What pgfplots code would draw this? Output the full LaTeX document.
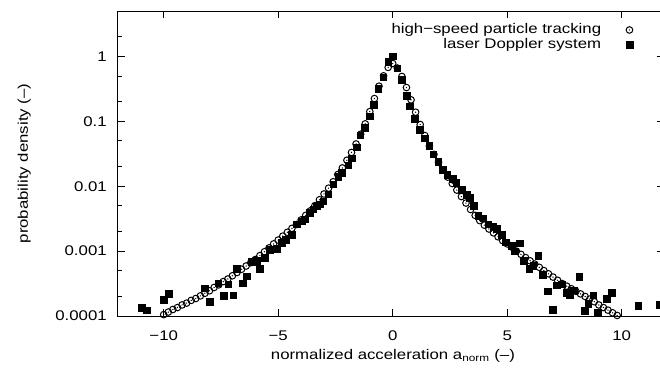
\documentclass[border=0pt]{standalone}
\usepackage{fontspec}
\setmainfont{Liberation Sans}[FakeStretch=1.2]
\usepackage{pgfplots}
\usepackage{pgfplotstable}
\pgfplotsset{compat=1.18}

\pgfdeclareplotmark{odot}{%
  \pgfpathcircle{\pgfpointorigin}{\pgfplotmarksize}\pgfusepathqstroke
  \pgfpathcircle{\pgfpointorigin}{0.22\pgfplotmarksize}\pgfusepathqfill}

\pgfplotstableread{
x y
-10.0 1.05e-4
-9.8 1.15e-4
-9.6 1.26e-4
-9.4 1.35e-4
-9.2 1.48e-4
-9.0 1.58e-4
-8.8 1.74e-4
-8.6 1.86e-4
-8.4 2.04e-4
-8.2 2.24e-4
-8.0 2.45e-4
-7.8 2.75e-4
-7.6 3.02e-4
-7.4 3.39e-4
-7.2 3.72e-4
-7.0 4.17e-4
-6.8 4.68e-4
-6.6 5.25e-4
-6.4 5.89e-4
-6.2 6.61e-4
-6.0 7.41e-4
-5.8 8.51e-4
-5.6 9.77e-4
-5.4 1.12e-3
-5.2 1.29e-3
-5.0 1.48e-3
-4.8 1.70e-3
-4.6 1.95e-3
-4.4 2.24e-3
-4.2 2.57e-3
-4.0 3.02e-3
-3.8 3.55e-3
-3.6 4.17e-3
-3.4 5.01e-3
-3.2 6.17e-3
-3.0 7.59e-3
-2.8 9.33e-3
-2.6 0.0117
-2.4 0.0151
-2.2 0.0191
-2.0 0.0251
-1.8 0.0331
-1.6 0.0447
-1.4 0.0631
-1.2 0.0912
-1.0 0.141
-0.8 0.224
-0.6 0.347
-0.4 0.501
-0.2 0.676
0.0 0.776
0.2 0.661
0.4 0.490
0.6 0.331
0.8 0.214
1.0 0.138
1.2 0.0891
1.4 0.0603
1.6 0.0417
1.8 0.0309
2.0 0.0234
2.2 0.0178
2.4 0.0138
2.6 0.0110
2.8 8.71e-3
3.0 6.92e-3
3.2 5.50e-3
3.4 4.37e-3
3.6 3.55e-3
3.8 2.95e-3
4.0 2.51e-3
4.2 2.19e-3
4.4 1.91e-3
4.6 1.66e-3
4.8 1.45e-3
5.0 1.29e-3
5.2 1.15e-3
5.4 1.00e-3
5.6 8.91e-4
5.8 7.94e-4
6.0 7.08e-4
6.2 6.31e-4
6.4 5.62e-4
6.6 5.01e-4
6.8 4.47e-4
7.0 3.98e-4
7.2 3.55e-4
7.4 3.16e-4
7.6 2.88e-4
7.8 2.63e-4
8.0 2.40e-4
8.2 2.19e-4
8.4 2.00e-4
8.6 1.82e-4
8.8 1.66e-4
9.0 1.48e-4
9.2 1.35e-4
9.4 1.23e-4
9.6 1.12e-4
9.8 1.02e-4
}\hspt

\pgfplotstableread{
x y
-10.97 1.35e-4
-10.75 1.23e-4
-10.0 1.80e-4
-9.78 2.20e-4
-8.2 2.70e-4
-7.99 1.65e-4
-7.62 3.20e-4
-7.38 2.05e-4
-7.19 3.10e-4
-6.97 2.10e-4
-6.82 5.40e-4
-6.56 3.20e-4
-6.38 4.10e-4
-6.17 6.80e-4
-5.95 7.10e-4
-5.8 5.40e-4
-5.59 7.90e-4
-5.37 1.05e-3
-5.07 1.10e-3
-4.86 1.35e-3
-4.67 1.50e-3
-4.42 1.80e-3
-4.2 2.60e-3
-3.98 2.90e-3
-3.84 3.10e-3
-3.62 3.90e-3
-3.48 4.40e-3
-3.33 4.90e-3
-3.18 5.30e-3
-3.04 5.90e-3
-2.82 7.50e-3
-2.6 1.07e-2
-2.38 1.41e-2
-2.24 1.60e-2
-1.95 2.10e-2
-1.80 2.70e-2
-1.58 4.00e-2
-1.42 6.10e-2
-1.22 7.90e-2
-1.0 0.12
-0.83 0.18
-0.64 0.32
-0.42 0.48
-0.2 0.82
0.0 1.0
0.2 0.66
0.38 0.44
0.6 0.25
0.75 0.17
0.97 0.11
1.18 0.074
1.4 0.055
1.59 0.042
1.76 0.031
1.98 0.024
2.17 0.018
2.38 0.015
2.61 0.013
2.78 0.0112
3.0 0.0089
3.22 0.0074
3.37 0.0066
3.54 0.0050
3.73 0.0035
3.95 0.0032
4.17 0.0026
4.38 0.0024
4.53 0.0022
4.75 0.0018
4.94 0.00138
5.19 0.0012
5.33 0.0010
5.55 0.00132
5.72 0.00071
5.96 0.00054
6.13 0.0006
6.35 0.00085
6.54 0.00043
6.76 0.00024
6.98 0.000126
7.15 0.0003
7.37 0.00031
7.59 0.00023
7.74 0.00021
7.91 0.00025
8.14 0.0004
8.39 0.00012
8.53 0.000155
8.75 0.00021
8.94 0.000115
9.34 0.000186
9.55 0.00023
10.72 0.000145
11.63 0.00015
}\ldv

\begin{document}
\fontsize{14pt}{16pt}\selectfont
\begin{tikzpicture}
\begin{axis}[name=ax, scale only axis, width=546.2pt, height=305pt,
  xmin=-12, xmax=11.85, ymin=1e-4, ymax=5, ymode=log,
  axis line style={line width=0.9pt},
  tick align=inside, xtick pos=both, ytick pos=left,
  xtick={-10,-5,0,5,10}, xticklabels={−10,−5,0,5,10},
  ytick={1e-4,1e-3,1e-2,0.1,1}, yticklabels={0.0001,0.001,0.01,0.1,1},
  minor ytick={2e-4,5e-4,2e-3,5e-3,0.02,0.05,0.2,0.5,2},
  major tick length=7pt, minor tick length=4pt,
  every tick/.style={black, line width=0.8pt},
  tick label style={font=\fontsize{14pt}{16pt}\selectfont},
  xticklabel style={anchor=base, yshift=-24pt, inner sep=0pt},
  yticklabel style={anchor=east, inner sep=0pt, xshift=-11pt},
  xlabel={normalized acceleration a\textsubscript{norm} (–)},
  xlabel style={at={(axis description cs:0.5035,-0.141)}, anchor=base, inner sep=0pt},
  ylabel={probability density (–)},
  ylabel style={at={(axis description cs:-0.1716,0.5)}, anchor=center, inner sep=0pt},
  legend style={draw=none, fill=none, at={(axis description cs:0.943,0.963)}, anchor=north east,
    inner sep=0pt, row sep=0pt, column sep=24pt, font=\fontsize{14pt}{16pt}\selectfont,
    nodes={inner sep=1pt, text height=10pt, text depth=3pt}},
  legend plot pos=right, legend cell align=right,
]
\addplot[only marks, mark=odot, mark size=3.3pt, mark options={line width=1pt, black}] table {\hspt};
\addlegendentry{high−speed particle tracking}
\addplot[only marks, mark=square*, mark size=3.3pt, mark options={black}] table {\ldv};
\addlegendentry{laser Doppler system}
\end{axis}
\begin{axis}[at={(ax.south west)}, anchor=south west, scale only axis, width=546.2pt, height=305pt,
  xmin=-12, xmax=11.85, ymin=1e-4, ymax=5, ymode=log,
  hide x axis, ytick pos=right, tick align=inside,
  ytick={1e-3,1e-2,0.1,1}, yticklabels={}, yminorticks=false,
  major tick length=7pt, every tick/.style={black, line width=0.8pt},
  axis line style={line width=0.9pt}]
\addplot[draw=none] coordinates {(0,1)};
\end{axis}
\pgfresetboundingbox
\path[use as bounding box] ([shift={(-117.9pt,-55pt)}]ax.south west) rectangle ([shift={(542.1pt,316pt)}]ax.south west);
\end{tikzpicture}
\end{document}
